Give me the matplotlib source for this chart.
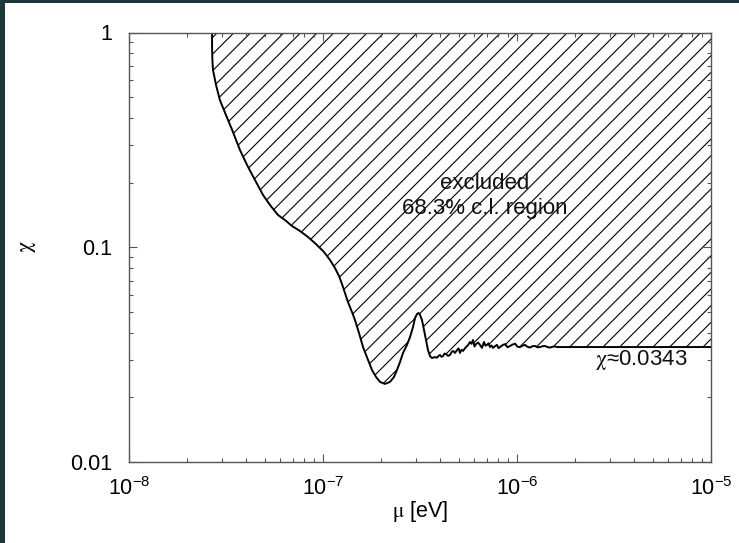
import numpy as np
import matplotlib
matplotlib.use("Agg")
import matplotlib.pyplot as plt
from matplotlib.patches import Rectangle
from matplotlib.ticker import LogLocator, NullFormatter, FixedLocator, FixedFormatter

plt.rcParams['font.family'] = ['Liberation Sans', 'DejaVu Sans']
plt.rcParams['mathtext.fontset'] = 'stix'
plt.rcParams['hatch.linewidth'] = 0.8
plt.rcParams['axes.unicode_minus'] = False

# boundary of the excluded region (mu in eV, chi)
mu = [2.68e-8, 2.68e-8, 2.69e-8, 2.71e-8, 2.81e-8, 2.94e-8, 3.16e-8, 3.40e-8,
      3.73e-8, 4.06e-8, 4.46e-8, 4.91e-8, 5.33e-8, 5.86e-8, 6.37e-8, 6.92e-8,
      7.61e-8, 8.37e-8, 9.20e-8, 1.012e-7, 1.087e-7, 1.153e-7, 1.209e-7,
      1.253e-7, 1.298e-7, 1.345e-7, 1.411e-7, 1.462e-7, 1.533e-7, 1.608e-7,
      1.706e-7, 1.789e-7, 1.876e-7, 1.967e-7, 2.087e-7, 2.215e-7, 2.323e-7,
      2.406e-7, 2.494e-7, 2.585e-7, 2.710e-7, 2.809e-7, 2.911e-7, 2.981e-7,
      3.052e-7, 3.107e-7, 3.162e-7, 3.238e-7, 3.316e-7, 3.396e-7, 3.477e-7,
      3.561e-7, 3.646e-7, 3.778e-7, 3.869e-7, 3.94e-7, 4.010e-7, 4.08e-7,
      4.155e-7, 4.23e-7, 4.305e-7, 4.41e-7, 4.514e-7, 4.60e-7, 4.678e-7,
      4.79e-7, 4.906e-7, 5.0e-7, 5.083e-7, 5.17e-7, 5.268e-7, 5.36e-7,
      5.459e-7, 5.59e-7, 5.724e-7, 5.83e-7, 5.932e-7, 6.04e-7, 6.147e-7,
      6.30e-7, 6.445e-7, 6.60e-7, 6.760e-7, 6.88e-7, 7.005e-7, 7.13e-7,
      7.259e-7, 7.39e-7, 7.522e-7, 7.70e-7, 7.887e-7, 8.03e-7, 8.173e-7,
      8.42e-7, 8.674e-7, 8.94e-7, 9.204e-7, 9.48e-7, 9.766e-7, 1.006e-6,
      1.036e-6, 1.067e-6, 1.099e-6, 1.133e-6, 1.167e-6, 1.20e-6, 1.238e-6,
      1.276e-6, 1.314e-6, 1.354e-6, 1.394e-6, 1.436e-6, 1.479e-6, 1.524e-6,
      1.570e-6, 1.617e-6, 1.666e-6, 1.0e-5]
chi = [1.0, 0.875, 0.745, 0.669, 0.569, 0.485, 0.413, 0.352,
       0.284, 0.2415, 0.2056, 0.175, 0.1573, 0.1413, 0.1339, 0.1256,
       0.119, 0.1116, 0.1035, 0.0950, 0.0872, 0.0800, 0.0735,
       0.0674, 0.0612, 0.0556, 0.0499, 0.0458, 0.0399, 0.0343,
       0.0299, 0.0268, 0.0249, 0.0236, 0.0231, 0.0236, 0.0249,
       0.0268, 0.0292, 0.0322, 0.0351, 0.0382, 0.0425, 0.0468,
       0.0489, 0.0494, 0.0484, 0.0458, 0.0412, 0.0370, 0.0332,
       0.0311, 0.0305, 0.0308, 0.0306, 0.0312, 0.0315, 0.0309,
       0.0311, 0.0320, 0.0318, 0.0312, 0.0315, 0.0325, 0.0329,
       0.0322, 0.0332, 0.0338, 0.0322, 0.0333, 0.0329, 0.0336,
       0.0343, 0.0350, 0.0362, 0.0355, 0.0370, 0.0345, 0.0354,
       0.0360, 0.0351, 0.0340, 0.0362, 0.0348, 0.0351, 0.0357,
       0.0343, 0.0349, 0.0340, 0.0346, 0.0351, 0.0339, 0.0343,
       0.0350, 0.0354, 0.0342, 0.0347, 0.0352, 0.0356, 0.0344,
       0.0343, 0.0348, 0.0351, 0.0344, 0.0341, 0.0346, 0.0347,
       0.0342, 0.0343, 0.0346, 0.0347, 0.0343, 0.0341, 0.0344,
       0.0345, 0.0343, 0.0343, 0.0343]

ytick_vals = [0.01, 0.1, 1]
ytick_labels = ['0.01', '0.1', '1']
region_label = "excluded\n68.3% c.l. region"
limit_label = r"$\mathrm{\chi}$≈0.0343"

W, H = 739, 543
fig = plt.figure(figsize=(W / 100, H / 100), dpi=100)
fig.patch.set_facecolor('white')
# dark border strips of the screenshot
fig.patches.append(Rectangle((0, 0), 5 / W, 1, transform=fig.transFigure,
                             facecolor='#1f363b', edgecolor='none', zorder=0))
fig.patches.append(Rectangle((0, 1 - 3 / H), 1, 3 / H, transform=fig.transFigure,
                             facecolor='#1f363b', edgecolor='none', zorder=0))

ax = fig.add_axes([129 / W, 1 - 462 / H, (711 - 129) / W, (462 - 32.5) / H])
ax.set_xscale('log')
ax.set_yscale('log')
ax.set_xlim(1e-8, 1e-5)
ax.set_ylim(0.01, 1)

mu_a = np.array(mu)
chi_a = np.array(chi)
ax.fill_between(mu_a, chi_a, 1.0, facecolor='none', edgecolor='black',
                hatch='//', linewidth=0)
ax.plot(mu_a, chi_a, color='black', lw=1.4, solid_joinstyle='round')

ax.text(6.84e-7, 0.1733, region_label, ha='center', va='center',
        multialignment='center', fontsize=16, color='#111111')
ax.text(2.53e-6, 0.0299, limit_label, ha='left', va='center',
        fontsize=16, color='#111111')

ax.yaxis.set_major_locator(FixedLocator(ytick_vals))
ax.yaxis.set_major_formatter(FixedFormatter(ytick_labels))
ax.yaxis.set_minor_locator(LogLocator(base=10, subs=np.arange(2, 10)))
ax.yaxis.set_minor_formatter(NullFormatter())
ax.xaxis.set_minor_locator(LogLocator(base=10, subs=np.arange(2, 10)))
ax.xaxis.set_minor_formatter(NullFormatter())

for s in ax.spines.values():
    s.set_color('#555555')
    s.set_linewidth(1.0)
ax.tick_params(which='both', direction='in', top=True, right=True,
               color='#555555', width=0.8)
ax.tick_params(which='major', length=5.5)
ax.tick_params(which='minor', length=3)
ax.tick_params(axis='y', which='major', pad=12, labelsize=15.5)
ax.tick_params(axis='x', which='major', pad=11, labelsize=15.5)

fig.text(420 / W, 1 - 512 / H, r"$\mathrm{\mu}$ [eV]", ha='center', va='center',
         fontsize=15.5)
fig.text(27 / W, 1 - 247 / H, r"$\mathrm{\chi}$", ha='center', va='center',
         rotation=90, fontsize=16)

fig.savefig('out.png', dpi=100)
